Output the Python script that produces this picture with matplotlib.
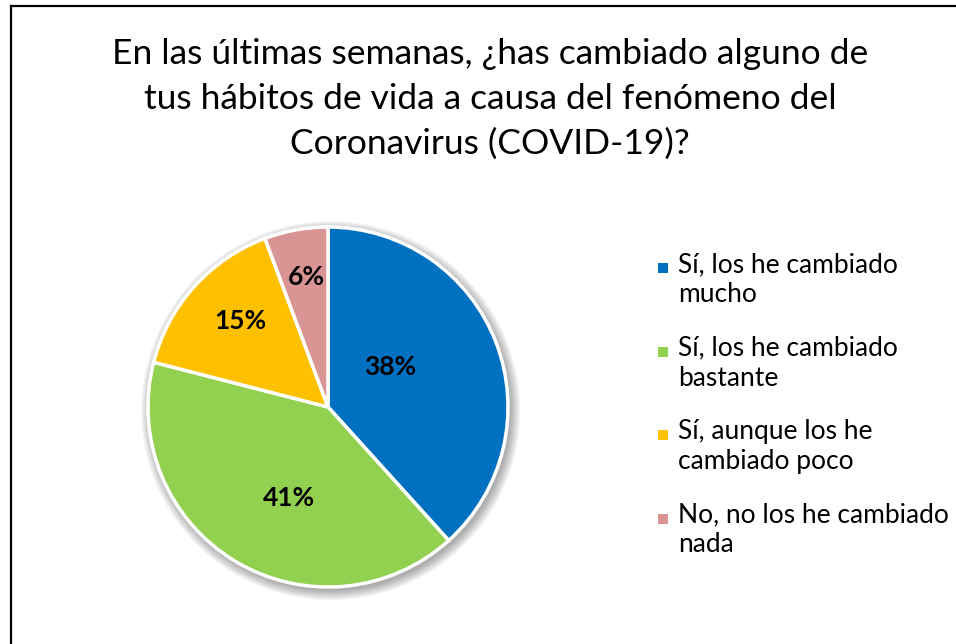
import numpy as np
import matplotlib
matplotlib.use("Agg")
import matplotlib.pyplot as plt
from matplotlib.patches import Circle, Rectangle
from matplotlib.lines import Line2D

plt.rcParams["font.family"] = ["Lato", "DejaVu Sans"]

# data
categories = [
    "Sí, los he cambiado\nmucho",
    "Sí, los he cambiado\nbastante",
    "Sí, aunque los he\ncambiado poco",
    "No, no los he cambiado\nnada",
]
shares = [38.3, 40.7, 15.3, 5.7]
pct_labels = ["38%", "41%", "15%", "6%"]
colors = ["#0070C0", "#92D050", "#FFC000", "#D99594"]
title = ("En las últimas semanas, ¿has cambiado alguno de\n"
         "tus hábitos de vida a causa del fenómeno del\n"
         "Coronavirus (COVID-19)?")

W, H = 956, 644
fig = plt.figure(figsize=(W / 100, H / 100), dpi=100)

# pie axes: centre (328, 407) px, radius 180 px
cx, cy, r = 328, 407, 180
ax = fig.add_axes([(cx - r) / W, (H - cy - r) / H, 2 * r / W, 2 * r / H])

# soft shadow
for i in range(10):
    ax.add_patch(Circle((0.015, -0.02), 1.0 + i * 0.006, color="black",
                        alpha=0.035, lw=0, zorder=0, clip_on=False))

wedges, _ = ax.pie(shares, colors=colors, startangle=90, counterclock=False,
                   radius=1.0, wedgeprops=dict(edgecolor="white", linewidth=2.5))
for w in wedges:
    w.set_zorder(2)
    w.set_clip_on(False)

# value labels (best-fit style placement)
dists = [0.41, 0.55, 0.68, 0.73]
ang_shift = [12, 8, -2.4, -1]
for w, lab, d, s in zip(wedges, pct_labels, dists, ang_shift):
    ang = np.deg2rad((w.theta1 + w.theta2) / 2 + s)
    ax.text(d * np.cos(ang), d * np.sin(ang), lab, ha="center", va="center",
            fontsize=19, fontweight="bold", color="black", zorder=3)

ax.set_xlim(-1, 1)
ax.set_ylim(-1, 1)
ax.set_aspect("equal")
ax.axis("off")

# legend, drawn by hand so the marker sits on the first line
leg_x, leg_y0, leg_step = 658, 268, 83.5
for i, (lab, c) in enumerate(zip(categories, colors)):
    yc = leg_y0 + i * leg_step
    fig.add_artist(Rectangle((leg_x / W, 1 - (yc + 5) / H), 10 / W, 10 / H,
                             facecolor=c, edgecolor="none"))
    fig.text((leg_x + 20) / W, 1 - (yc - 16) / H, lab, ha="left", va="top",
             fontsize=19, linespacing=1.25)

fig.text(490 / W, 1 - 99 / H, title, ha="center", va="center",
         fontsize=25.5, linespacing=1.5)

# chart border (left and top visible)
fig.add_artist(Line2D([11 / W, 11 / W], [0, 1 - 6 / H], color="black", lw=1.6))
fig.add_artist(Line2D([11 / W, 1], [1 - 6 / H, 1 - 6 / H], color="black", lw=1.6))

fig.savefig("out.png", dpi=100)
